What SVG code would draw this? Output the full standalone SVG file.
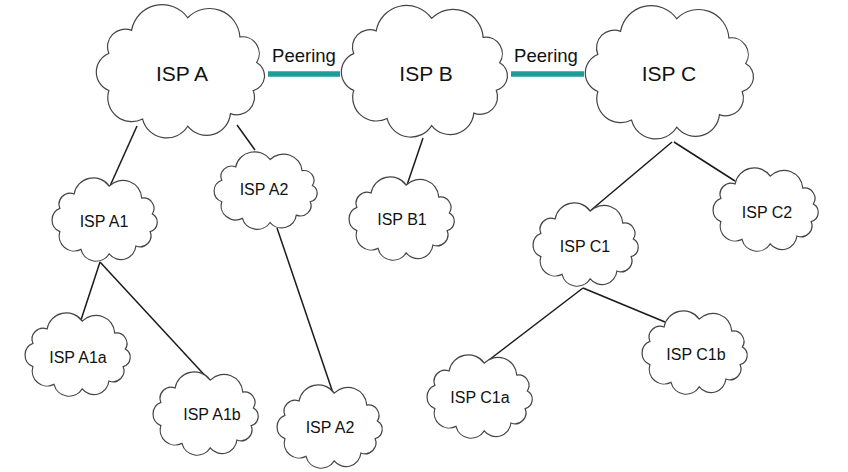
<svg xmlns="http://www.w3.org/2000/svg" xmlns:xlink="http://www.w3.org/1999/xlink" width="848" height="472" viewBox="0 0 848 472">
<style>
.cloud{fill:#fff;stroke:#444;stroke-width:1.2;vector-effect:non-scaling-stroke}
.link{stroke:#1a1a1a;stroke-width:1.5;fill:none}
.peer{stroke:#1f9c97;stroke-width:5.5;fill:none}
.big{font-family:"Liberation Sans",Arial,sans-serif;font-size:21px;fill:#111;text-anchor:middle}
.small{font-family:"Liberation Sans",Arial,sans-serif;font-size:16px;fill:#111;text-anchor:middle}
.plab{font-family:"Liberation Sans",Arial,sans-serif;font-size:18.5px;fill:#111;text-anchor:middle}
</style>
<defs>
<path id="cloud" class="cloud" d="M-45.1,11.6 A12.5,12.5 0 0 1 -45.1,-11.6 A11,11 0 0 1 -30.9,-26 A19.5,19.5 0 0 1 4.2,-33.9 A19,19 0 0 1 36.8,-21.9 A10.5,10.5 0 0 1 47.3,-5.9 A9.5,9.5 0 0 1 45.1,11.6 A11,11 0 0 1 30.9,26 A15,15 0 0 1 4.2,33.9 A15.5,15.5 0 0 1 -24,29.4 A15,15 0 0 1 -45.1,11.6 Z"/>
</defs>
<rect width="848" height="472" fill="#fff"/>
<g id="connectors">
<line class="link" x1="137" y1="126" x2="110" y2="186"/>
<line class="link" x1="237" y1="125" x2="255" y2="150"/>
<line class="link" x1="423" y1="138" x2="407" y2="185"/>
<line class="link" x1="672" y1="142" x2="590" y2="211"/>
<line class="link" x1="674" y1="142" x2="735" y2="181"/>
<line class="link" x1="100" y1="262" x2="80" y2="323"/>
<line class="link" x1="100" y1="262" x2="210" y2="381"/>
<line class="link" x1="277" y1="228" x2="333" y2="393"/>
<line class="link" x1="583" y1="288" x2="485" y2="363"/>
<line class="link" x1="583" y1="288" x2="665" y2="322"/>
<line class="peer" x1="268" y1="74" x2="340" y2="74"/>
<line class="peer" x1="511" y1="74" x2="584" y2="74"/>
<text class="plab" x="304" y="62">Peering</text>
<text class="plab" x="546" y="62">Peering</text>
</g>
<g id="ispA"><use xlink:href="#cloud" transform="translate(181,72) scale(1.6)"/><text class="big" x="182" y="81">ISP A</text></g>
<g id="ispB"><use xlink:href="#cloud" transform="translate(425,72) scale(1.58)"/><text class="big" x="426" y="81">ISP B</text></g>
<g id="ispC"><use xlink:href="#cloud" transform="translate(670,73) scale(1.6)"/><text class="big" x="669" y="81">ISP C</text></g>
<g id="ispA1"><use xlink:href="#cloud" transform="translate(105,220)"/><text class="small" x="104" y="227">ISP A1</text></g>
<g id="ispA2top"><use xlink:href="#cloud" transform="translate(266,191) scale(0.98,0.93)"/><text class="small" x="264" y="195">ISP A2</text></g>
<g id="ispB1"><use xlink:href="#cloud" transform="translate(402,219)"/><text class="small" x="402" y="225">ISP B1</text></g>
<g id="ispC1"><use xlink:href="#cloud" transform="translate(586,245)"/><text class="small" x="585" y="252">ISP C1</text></g>
<g id="ispC2"><use xlink:href="#cloud" transform="translate(766,210)"/><text class="small" x="767" y="218">ISP C2</text></g>
<g id="ispA1a"><use xlink:href="#cloud" transform="translate(78,355)"/><text class="small" x="78" y="363">ISP A1a</text></g>
<g id="ispA1b"><use xlink:href="#cloud" transform="translate(206,414)"/><text class="small" x="212" y="420">ISP A1b</text></g>
<g id="ispA2bot"><use xlink:href="#cloud" transform="translate(330,427)"/><text class="small" x="330" y="433">ISP A2</text></g>
<g id="ispC1a"><use xlink:href="#cloud" transform="translate(480,397)"/><text class="small" x="480" y="403">ISP C1a</text></g>
<g id="ispC1b"><use xlink:href="#cloud" transform="translate(695,353)"/><text class="small" x="696" y="360">ISP C1b</text></g>
</svg>
